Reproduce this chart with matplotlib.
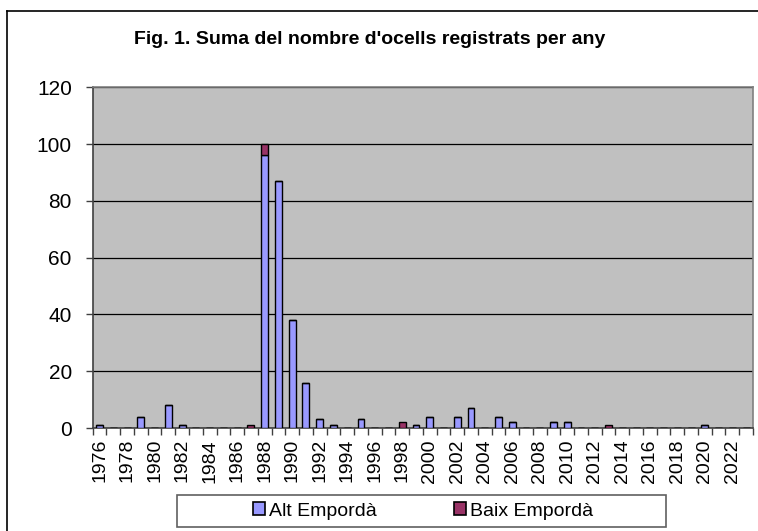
import matplotlib
matplotlib.use('Agg')
import matplotlib.pyplot as plt
from matplotlib.lines import Line2D
from matplotlib.patches import Rectangle, Patch
import numpy as np

plt.rcParams['font.family'] = ['Liberation Sans', 'DejaVu Sans']

# dades llegides del grafic
years = list(range(1976, 2024))
alt = [1, 0, 0, 4, 0, 8, 1, 0, 0, 0,
       0, 0, 96, 87, 38, 16, 3, 1, 0, 3,
       0, 0, 0, 1, 4, 0, 4, 7, 0, 4,
       2, 0, 0, 2, 2, 0, 0, 0, 0, 0,
       0, 0, 0, 0, 1, 0, 0, 0]
baix = [0, 0, 0, 0, 0, 0, 0, 0, 0, 0,
        0, 1, 4, 0, 0, 0, 0, 0, 0, 0,
        0, 0, 2, 0, 0, 0, 0, 0, 0, 0,
        0, 0, 0, 0, 0, 0, 0, 1, 0, 0,
        0, 0, 0, 0, 0, 0, 0, 0]
title = "Fig. 1. Suma del nombre d'ocells registrats per any"
series_names = ['Alt Empordà', 'Baix Empordà']
colors = ['#9999FF', '#993366']

W, H = 758, 531
fig = plt.figure(figsize=(W / 100, H / 100), dpi=100)
ax = fig.add_axes([92.7 / W, 1 - 428 / H, (753 - 92.7) / W, (428 - 87.3) / H])
ax.set_facecolor('#C0C0C0')

x = np.arange(len(years))
alt = np.array(alt)
baix = np.array(baix)
ax.bar(x, alt, width=0.5, color=colors[0], edgecolor='black', linewidth=1.0, zorder=3)
ax.bar(x, baix, width=0.5, bottom=alt, color=colors[1], edgecolor='black', linewidth=1.0, zorder=3)

ax.set_xlim(-0.5, len(years) - 0.5)
ax.set_ylim(0, 120)
ax.set_yticks(np.arange(0, 121, 20))
ax.yaxis.grid(True, color='black', linewidth=0.9, zorder=1)
ax.set_axisbelow(True)

ax.set_xticks(x[::2])
ax.set_xticklabels([str(y) for y in years[::2]], rotation=90)
ax.set_xticks(np.arange(-0.5, len(years), 1), minor=True)
ax.tick_params(axis='x', which='major', length=0, pad=8, labelsize=14)
ax.tick_params(axis='x', which='minor', length=5, width=1, color='#404040')
ax.tick_params(axis='y', length=5, width=1, color='#404040', pad=10, labelsize=15)

for s in ['top', 'right']:
    ax.spines[s].set_color('#808080')
for s in ['left', 'bottom']:
    ax.spines[s].set_color('#404040')
for s in ax.spines.values():
    s.set_linewidth(1.2)

fig.text(370 / W, 1 - 43.5 / H, title, ha='center', va='baseline',
         fontsize=14, fontweight='bold')

# vora exterior (nomes es veuen dalt i esquerra)
fig.add_artist(Line2D([7 / W, 7 / W], [0, 1 - 11 / H], color='black', linewidth=1.2))
fig.add_artist(Line2D([7 / W, 1], [1 - 11 / H, 1 - 11 / H], color='black', linewidth=1.2))

# llegenda
fig.add_artist(Rectangle((177 / W, 1 - 527 / H), (666 - 177) / W, 32 / H,
                         transform=fig.transFigure, facecolor='white',
                         edgecolor='#606060', linewidth=1.2))
handles = [Patch(facecolor=c, edgecolor='black', linewidth=1.2) for c in colors]
fig.legend(handles, series_names, loc='center', bbox_to_anchor=(423 / W, 1 - 511 / H),
           ncol=2, frameon=False, fontsize=14, handlelength=0.6, handleheight=0.6,
           handletextpad=0.2, columnspacing=4.0)

fig.savefig('out.png', dpi=100)
